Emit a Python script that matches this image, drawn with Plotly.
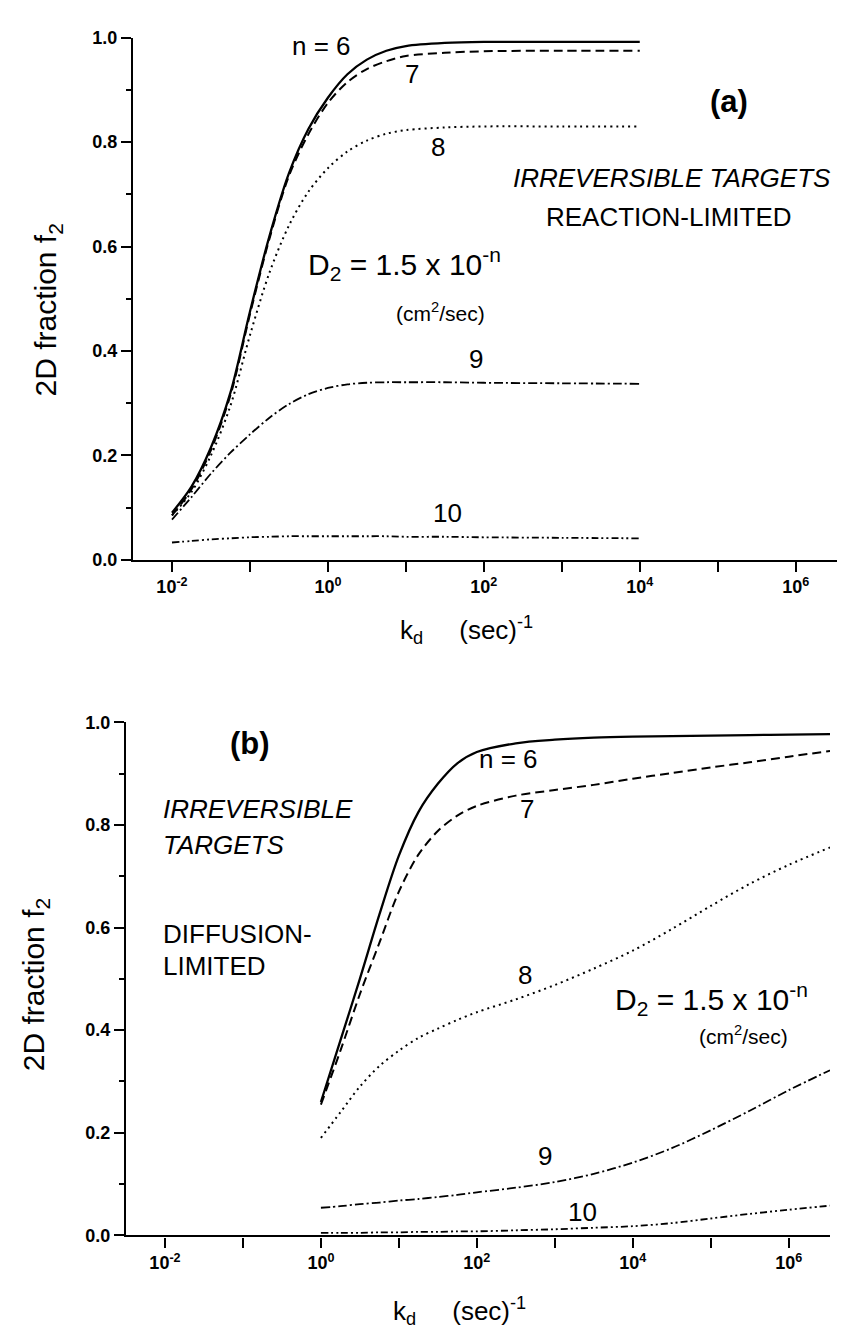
import plotly.graph_objects as go

# ---------------- data ----------------
# panel (a): reaction-limited, k_d (1/sec)
kd_a = [0.01, 0.0178, 0.0316, 0.0562, 0.1, 0.178, 0.316, 0.562, 1.0, 1.78,
        3.16, 5.62, 10.0, 31.6, 100.0, 1000.0, 10000.0]
fa_n6 = [0.09, 0.14, 0.215, 0.32, 0.475, 0.62, 0.74, 0.825, 0.885, 0.93,
         0.958, 0.975, 0.984, 0.99, 0.992, 0.992, 0.992]
fa_n7 = [0.085, 0.135, 0.21, 0.315, 0.47, 0.615, 0.735, 0.815, 0.875, 0.915,
         0.94, 0.955, 0.965, 0.971, 0.974, 0.975, 0.975]
fa_n8 = [0.085, 0.13, 0.2, 0.295, 0.43, 0.55, 0.64, 0.705, 0.75, 0.782,
         0.803, 0.816, 0.823, 0.828, 0.83, 0.83, 0.83]
fa_n9 = [0.077, 0.12, 0.165, 0.205, 0.24, 0.272, 0.298, 0.317, 0.329, 0.336,
         0.339, 0.34, 0.34, 0.34, 0.339, 0.338, 0.337]
fa_n10 = [0.033, 0.036, 0.039, 0.041, 0.043, 0.044, 0.045, 0.045, 0.045, 0.045,
          0.045, 0.045, 0.044, 0.044, 0.043, 0.042, 0.041]

# panel (b): diffusion-limited
kd_b = [1.0, 1.78, 3.16, 5.62, 10.0, 17.8, 31.6, 56.2, 100.0, 316.0, 1000.0,
        3160.0, 1.0e4, 3.16e4, 1.0e5, 3.16e5, 1.0e6, 3.39e6]
fb_n6 = [0.26, 0.38, 0.50, 0.625, 0.74, 0.825, 0.88, 0.92, 0.942, 0.959, 0.966,
         0.97, 0.972, 0.973, 0.974, 0.975, 0.976, 0.977]
fb_n7 = [0.255, 0.36, 0.47, 0.57, 0.67, 0.742, 0.788, 0.818, 0.837, 0.857, 0.868,
         0.878, 0.89, 0.901, 0.912, 0.922, 0.933, 0.944]
fb_n8 = [0.19, 0.24, 0.29, 0.33, 0.36, 0.385, 0.403, 0.42, 0.435, 0.46, 0.488,
         0.52, 0.555, 0.597, 0.642, 0.685, 0.722, 0.756]
fb_n9 = [0.054, 0.057, 0.061, 0.064, 0.068, 0.071, 0.075, 0.079, 0.084, 0.093,
         0.104, 0.12, 0.142, 0.17, 0.205, 0.243, 0.283, 0.322]
fb_n10 = [0.005, 0.005, 0.005, 0.006, 0.006, 0.007, 0.007, 0.008, 0.008, 0.01,
          0.012, 0.015, 0.018, 0.024, 0.033, 0.042, 0.05, 0.058]

x_tickvals = [1e-2, 1e-1, 1e0, 1e1, 1e2, 1e3, 1e4, 1e5, 1e6]
x_ticktext = ["10<sup>-2</sup>", "", "10<sup>0</sup>", "", "10<sup>2</sup>", "",
              "10<sup>4</sup>", "", "10<sup>6</sup>"]

# ---------------- figure ----------------
W, H = 846, 1332
FONT = "Liberation Sans, Arial, sans-serif"

styles = {
    "n6": dict(color="black", width=2.3, dash="solid"),
    "n7": dict(color="black", width=2.0, dash="9px,5px"),
    "n8": dict(color="black", width=2.0, dash="2px,4px"),
    "n9": dict(color="black", width=1.8, dash="9px,3px,2px,3px"),
    "n10": dict(color="black", width=1.8, dash="7px,3px,2px,3px,2px,3px"),
}

fig = go.Figure()
for key, ys in [("n6", fa_n6), ("n7", fa_n7), ("n8", fa_n8), ("n9", fa_n9), ("n10", fa_n10)]:
    fig.add_trace(go.Scatter(x=kd_a, y=ys, mode="lines", xaxis="x", yaxis="y",
                             line=dict(shape="spline", smoothing=0.9, **styles[key]),
                             showlegend=False, hoverinfo="skip"))
for key, ys in [("n6", fb_n6), ("n7", fb_n7), ("n8", fb_n8), ("n9", fb_n9), ("n10", fb_n10)]:
    fig.add_trace(go.Scatter(x=kd_b, y=ys, mode="lines", xaxis="x2", yaxis="y2",
                             line=dict(shape="spline", smoothing=0.9, **styles[key]),
                             showlegend=False, hoverinfo="skip"))

tickfont = dict(family=FONT, size=18, color="black", weight="bold")

def xax(domain, anchor):
    return dict(type="log", range=[-2.5, 6.53], domain=domain, anchor=anchor,
                showline=True, linecolor="black", linewidth=2.2,
                ticks="outside", ticklen=10, tickwidth=2, tickcolor="black",
                tickvals=x_tickvals, ticktext=x_ticktext, tickfont=tickfont,
                showgrid=False, zeroline=False)

def yax(domain, anchor):
    return dict(range=[0, 1.0], domain=domain, anchor=anchor,
                showline=True, linecolor="black", linewidth=2.2,
                ticks="outside", ticklen=10, tickwidth=2, tickcolor="black",
                dtick=0.2, tick0=0, tickformat=".1f", tickfont=tickfont,
                minor=dict(ticks="outside", ticklen=5, tickwidth=2, tickcolor="black",
                           dtick=0.1, tick0=0, showgrid=False),
                showgrid=False, zeroline=False)

fig.update_layout(
    width=W, height=H,
    margin=dict(l=0, r=0, t=0, b=0),
    paper_bgcolor="white", plot_bgcolor="white",
    font=dict(family=FONT, color="black"),
    xaxis=xax([125 / W, 829 / W], "y"),
    yaxis=yax([1 - 550 / H, 1 - 20 / H], "x"),
    xaxis2=xax([118 / W, 822 / W], "y2"),
    yaxis2=yax([1 - 1236 / H, 1 - 715 / H], "x2"),
)

ann = []
def A(text, x, y, xref, yref, size, xanchor="center", **kw):
    ann.append(dict(text=text, x=x, y=y, xref=xref, yref=yref, showarrow=False,
                    xanchor=xanchor, yanchor="middle",
                    font=dict(family=FONT, size=size, color="black", **kw)))

# panel (a) labels (x in log10 units)
A("n = 6", -0.08, 0.985, "x", "y", 26)
A("7", 1.077, 0.93, "x", "y", 26)
A("8", 1.41, 0.79, "x", "y", 26)
A("9", 1.9, 0.385, "x", "y", 26)
A("10", 1.54, 0.09, "x", "y", 26)
A("(a)", 5.15, 0.877, "x", "y", 31, weight="bold")
A("<i>IRREVERSIBLE TARGETS</i>", 4.41, 0.732, "x", "y", 26)
A("REACTION-LIMITED", 4.38, 0.657, "x", "y", 26)
A("D<sub>2</sub> = 1.5 x 10<sup>-n</sup>", 0.987, 0.566, "x", "y", 30)
A("(cm<sup>2</sup>/sec)", 1.45, 0.475, "x", "y", 21)

# panel (b) labels
A("(b)", -0.91, 0.958, "x2", "y2", 31, weight="bold")
A("<i>IRREVERSIBLE</i>", -2.05, 0.831, "x2", "y2", 26, xanchor="left")
A("<i>TARGETS</i>", -2.05, 0.760, "x2", "y2", 26, xanchor="left")
A("DIFFUSION-", -2.05, 0.587, "x2", "y2", 26, xanchor="left")
A("LIMITED", -2.05, 0.526, "x2", "y2", 26, xanchor="left")
A("n = 6", 2.40, 0.929, "x2", "y2", 26)
A("7", 2.64, 0.831, "x2", "y2", 26)
A("8", 2.62, 0.507, "x2", "y2", 26)
A("9", 2.88, 0.154, "x2", "y2", 26)
A("10", 3.35, 0.046, "x2", "y2", 26)
A("D<sub>2</sub> = 1.5 x 10<sup>-n</sup>", 5.01, 0.461, "x2", "y2", 30)
A("(cm<sup>2</sup>/sec)", 5.42, 0.39, "x2", "y2", 21)

# axis titles
NB = "\u00a0" * 5
ann.append(dict(text="2D fraction f<sub>2</sub>", x=40 / W, y=1 - 297 / H, xref="paper", yref="paper",
                showarrow=False, textangle=-90, xanchor="center", yanchor="middle",
                font=dict(family=FONT, size=30, color="black")))
ann.append(dict(text="2D fraction f<sub>2</sub>", x=27 / W, y=1 - 982 / H, xref="paper", yref="paper",
                showarrow=False, textangle=-90, xanchor="center", yanchor="middle",
                font=dict(family=FONT, size=30, color="black")))
ann.append(dict(text="k<sub>d</sub>" + NB + "(sec)<sup>-1</sup>", x=390 / W, y=1 - 621 / H,
                xref="paper", yref="paper", showarrow=False, xanchor="left", yanchor="middle",
                font=dict(family=FONT, size=26, color="black")))
ann.append(dict(text="k<sub>d</sub>" + NB + "(sec)<sup>-1</sup>", x=383 / W, y=1 - 1313 / H,
                xref="paper", yref="paper", showarrow=False, xanchor="left", yanchor="middle",
                font=dict(family=FONT, size=26, color="black")))

fig.update_layout(annotations=ann)
fig.write_html("out.html")
